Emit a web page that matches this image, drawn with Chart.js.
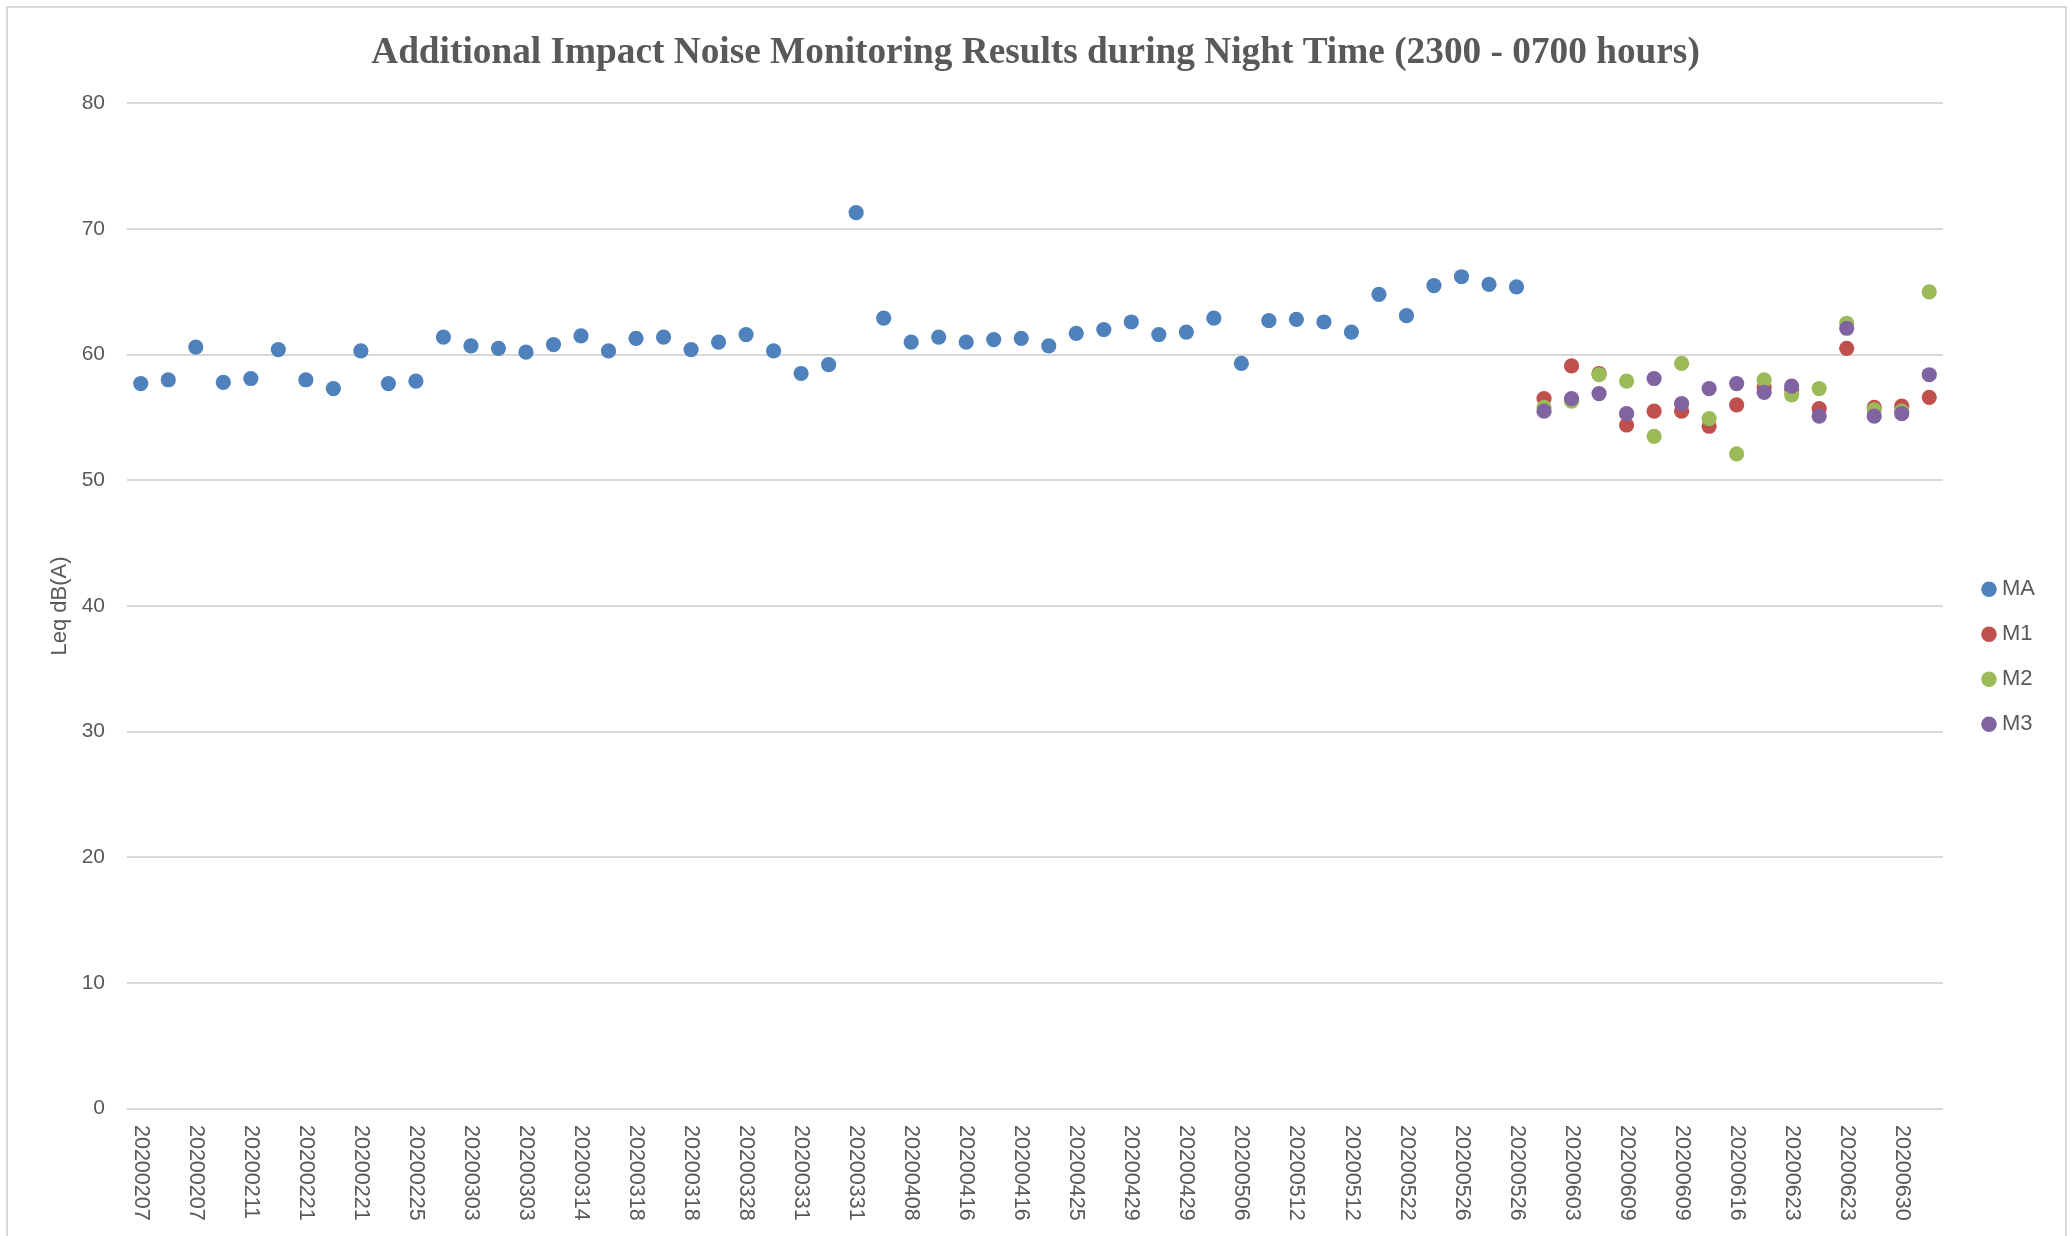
<!DOCTYPE html>
<html>
<head>
<meta charset="utf-8">
<script src="https://cdn.jsdelivr.net/npm/chart.js@4.4.1/dist/chart.umd.min.js"></script>
<style>
  html, body { margin: 0; padding: 0; background: #fff; overflow: hidden; }
  #wrap { position: relative; width: 2071px; height: 1236px; }
  #frame { position: absolute; left: 6px; top: 6px; width: 2057px; height: 1240px;
           border: 2px solid #d9d9d9; border-bottom: none; pointer-events: none; }
</style>
</head>
<body>
<div id="wrap">
  <canvas id="c" width="2071" height="1236"></canvas>
  <div id="frame"></div>
</div>
<script>
// ── data ─────────────────────────────────────────────────────────────────────
const dates = [
  '20200207','20200207','20200207','20200211','20200211','20200214','20200221','20200221',
  '20200221','20200225','20200225','20200228','20200303','20200303','20200303','20200310',
  '20200314','20200318','20200318','20200318','20200318','20200324','20200328','20200328',
  '20200331','20200331','20200331','20200404','20200408','20200416','20200416','20200416',
  '20200416','20200421','20200425','20200425','20200429','20200429','20200429','20200502',
  '20200506','20200512','20200512','20200512','20200512','20200516','20200522','20200526',
  '20200526','20200526','20200526','20200529','20200603','20200603','20200609','20200609',
  '20200609','20200612','20200616','20200616','20200623','20200623','20200623','20200626',
  '20200630','20200630'
];

const maValues = [
  57.7, 58.0, 60.6, 57.8, 58.1, 60.4, 58.0, 57.3, 60.3, 57.7,
  57.9, 61.4, 60.7, 60.5, 60.2, 60.8, 61.5, 60.3, 61.3, 61.4,
  60.4, 61.0, 61.6, 60.3, 58.5, 59.2, 71.3, 62.9, 61.0, 61.4,
  61.0, 61.2, 61.3, 60.7, 61.7, 62.0, 62.6, 61.6, 61.8, 62.9,
  59.3, 62.7, 62.8, 62.6, 61.8, 64.8, 63.1, 65.5, 66.2, 65.6, 65.4
];
const m1Values = [56.5, 59.1, 58.5, 54.4, 55.5, 55.5, 54.3, 56.0, 57.4, 57.2, 55.7, 60.5, 55.8, 55.9, 56.6];
const m2Values = [55.8, 56.3, 58.4, 57.9, 53.5, 59.3, 54.9, 52.1, 58.0, 56.8, 57.3, 62.5, 55.6, 55.5, 65.0];
const m3Values = [55.5, 56.5, 56.9, 55.3, 58.1, 56.1, 57.3, 57.7, 57.0, 57.5, 55.1, 62.1, 55.1, 55.3, 58.4];

const yTicks = [0, 10, 20, 30, 40, 50, 60, 70, 80];

// MA covers the first categories, M1–M3 the last ones
const padTail = arr => arr.concat(Array(dates.length - arr.length).fill(null));
const padHead = arr => Array(dates.length - arr.length).fill(null).concat(arr);

const GREY = '#595959';
const SANS = "'Liberation Sans', Arial, sans-serif";

const series = [
  { label: 'MA', data: padTail(maValues), color: '#4f81bd', order: 3 },
  { label: 'M1', data: padHead(m1Values), color: '#c0504d', order: 2 },
  { label: 'M2', data: padHead(m2Values), color: '#9bbb59', order: 1 },
  { label: 'M3', data: padHead(m3Values), color: '#8064a2', order: 0 },
];

// x labels read top-to-bottom (rotated 270° like the spreadsheet), every 2nd category
const rotatedLabels = {
  id: 'rotatedLabels',
  afterInit(chart) {
    // keep some white space right of the legend without shifting the title
    const lg = chart.legend;
    const fit = lg.fit;
    lg.fit = function () { fit.call(this); this.width = 107; };
  },
  afterDraw(chart) {
    const xs = chart.scales.x;
    const ctx = chart.ctx;
    ctx.save();
    ctx.fillStyle = GREY;
    ctx.font = `21.5px ${SANS}`;
    ctx.textAlign = 'left';
    ctx.textBaseline = 'middle';
    dates.forEach((d, i) => {
      if (i % 2) return;
      const x = xs.getPixelForValue(i);
      ctx.save();
      ctx.translate(x, xs.top + 16.5);
      ctx.rotate(Math.PI / 2);
      ctx.fillText(d, 0, 0);
      ctx.restore();
    });
    ctx.restore();
  }
};

new Chart(document.getElementById('c'), {
  type: 'line',
  data: {
    labels: dates,
    datasets: series.map(s => ({
      label: s.label,
      data: s.data,
      order: s.order,
      showLine: false,
      backgroundColor: s.color,
      borderColor: s.color,
      pointBackgroundColor: s.color,
      pointBorderColor: s.color,
      pointBorderWidth: 0,
      pointRadius: 7.6,
      pointHoverRadius: 7.6,
    })),
  },
  options: {
    responsive: false,
    animation: false,
    devicePixelRatio: 1,
    layout: { padding: 0 },
    plugins: {
      title: {
        display: true,
        text: 'Additional Impact Noise Monitoring Results during Night Time (2300 - 0700 hours)',
        color: GREY,
        font: { family: "'Liberation Serif', 'Times New Roman', serif", size: 37.3, weight: 'bold' },
        padding: { top: 30.5, bottom: 28.1 },
      },
      legend: {
        position: 'right',
        align: 'center',
        title: { display: true, text: '', font: { size: 12 }, padding: { top: 30, bottom: 33.2 } },
        labels: {
          usePointStyle: true,
          pointStyle: 'circle',
          boxWidth: 4,
          boxHeight: 11,
          padding: 23,
          color: GREY,
          font: { family: SANS, size: 22 },
          sort: (a, b) => a.datasetIndex - b.datasetIndex,
        },
      },
      tooltip: { enabled: false },
    },
    scales: {
      x: {
        offset: true,
        grid: { display: false },
        border: { display: false },
        ticks: { display: false },
        afterFit: s => { s.height = 127.5; },
      },
      y: {
        min: 0,
        max: 80,
        afterBuildTicks: s => { s.ticks = yTicks.map(v => ({ value: v })); },
        afterFit: s => { s.width = 127; },
        grid: { color: '#d9d9d9', lineWidth: 2, drawTicks: false },
        border: { display: false },
        ticks: { color: GREY, padding: 22, font: { family: SANS, size: 21 } },
        title: {
          display: true,
          text: 'Leq dB(A)',
          color: GREY,
          font: { family: SANS, size: 22 },
          padding: { top: 46.3, bottom: 0 },
        },
      },
      gap: {
        type: 'linear',
        position: 'right',
        display: true,
        grid: { display: false },
        border: { display: false },
        ticks: { display: false },
        afterFit: s => { s.width = 21; },
      },
    },
  },
  plugins: [rotatedLabels],
});
</script>
</body>
</html>
